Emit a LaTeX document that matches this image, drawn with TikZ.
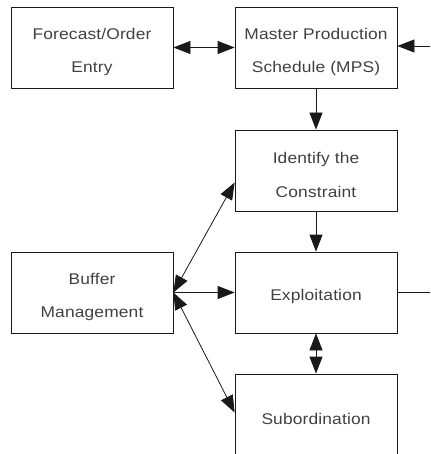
\documentclass[tikz,border=0pt]{standalone}
\usepackage{fontspec}
\setmainfont{Liberation Sans}[FakeStretch=1.12, LetterSpace=1]
\usetikzlibrary{arrows.meta}
% invisible strut that lowers a block of text inside its box
\newcommand{\lowerstrut}{\rule{0pt}{20pt}}
\begin{document}
\begin{tikzpicture}[x=1pt, y=-1pt,
  box/.style={draw=black!90, line width=0.8pt, minimum width=162pt, minimum height=81pt,
              inner sep=0pt, align=center, text=black!75,
              font=\fontsize{15.5}{33.5}\selectfont},
  conn/.style={draw=black!90, line width=0.8pt},
  head/.tip={Triangle[length=17pt, width=13pt]},
  onehead/.style={conn, -head},
  twohead/.style={conn, head-head}
]
\useasboundingbox (0,0) rectangle (430,454);
\begin{scope}
\clip (0,0) rectangle (430,454);

% process boxes
\node[box] (forecast) at (92,47.5)   {\lowerstrut Forecast/Order\\Entry};
\node[box] (mps)      at (316,47.5)  {\lowerstrut Master Production\\Schedule (MPS)};
\node[box] (identify) at (316,170.5) {\lowerstrut Identify the\\Constraint};
\node[box] (buffer)   at (92,292.5)  {\lowerstrut Buffer\\Management};
\node[box] (exploit)  at (316,292.5) {\lowerstrut Exploitation};
\node[box] (sub)      at (316,414.5) {\lowerstrut Subordination};

% loose ends leaving the right margin
\coordinate (inR)  at (432,46);
\coordinate (outR) at (432,292.5);

% connectors
\draw[twohead] (forecast) -- (mps);
\draw[onehead] (inR) -- (inR -| mps.east);
\draw[onehead] (mps) -- (identify);
\draw[onehead] (identify) -- (exploit);
\draw[twohead] (buffer.east) -- ([yshift=-12pt]identify.west);
\draw[onehead] (buffer.east) -- (exploit.west);
\draw[twohead] (buffer.east) -- ([yshift=2pt]sub.west);
\draw[twohead] (exploit) -- (sub);
\draw[conn] (exploit.east) -- (outR);
\end{scope}
\end{tikzpicture}
\end{document}
